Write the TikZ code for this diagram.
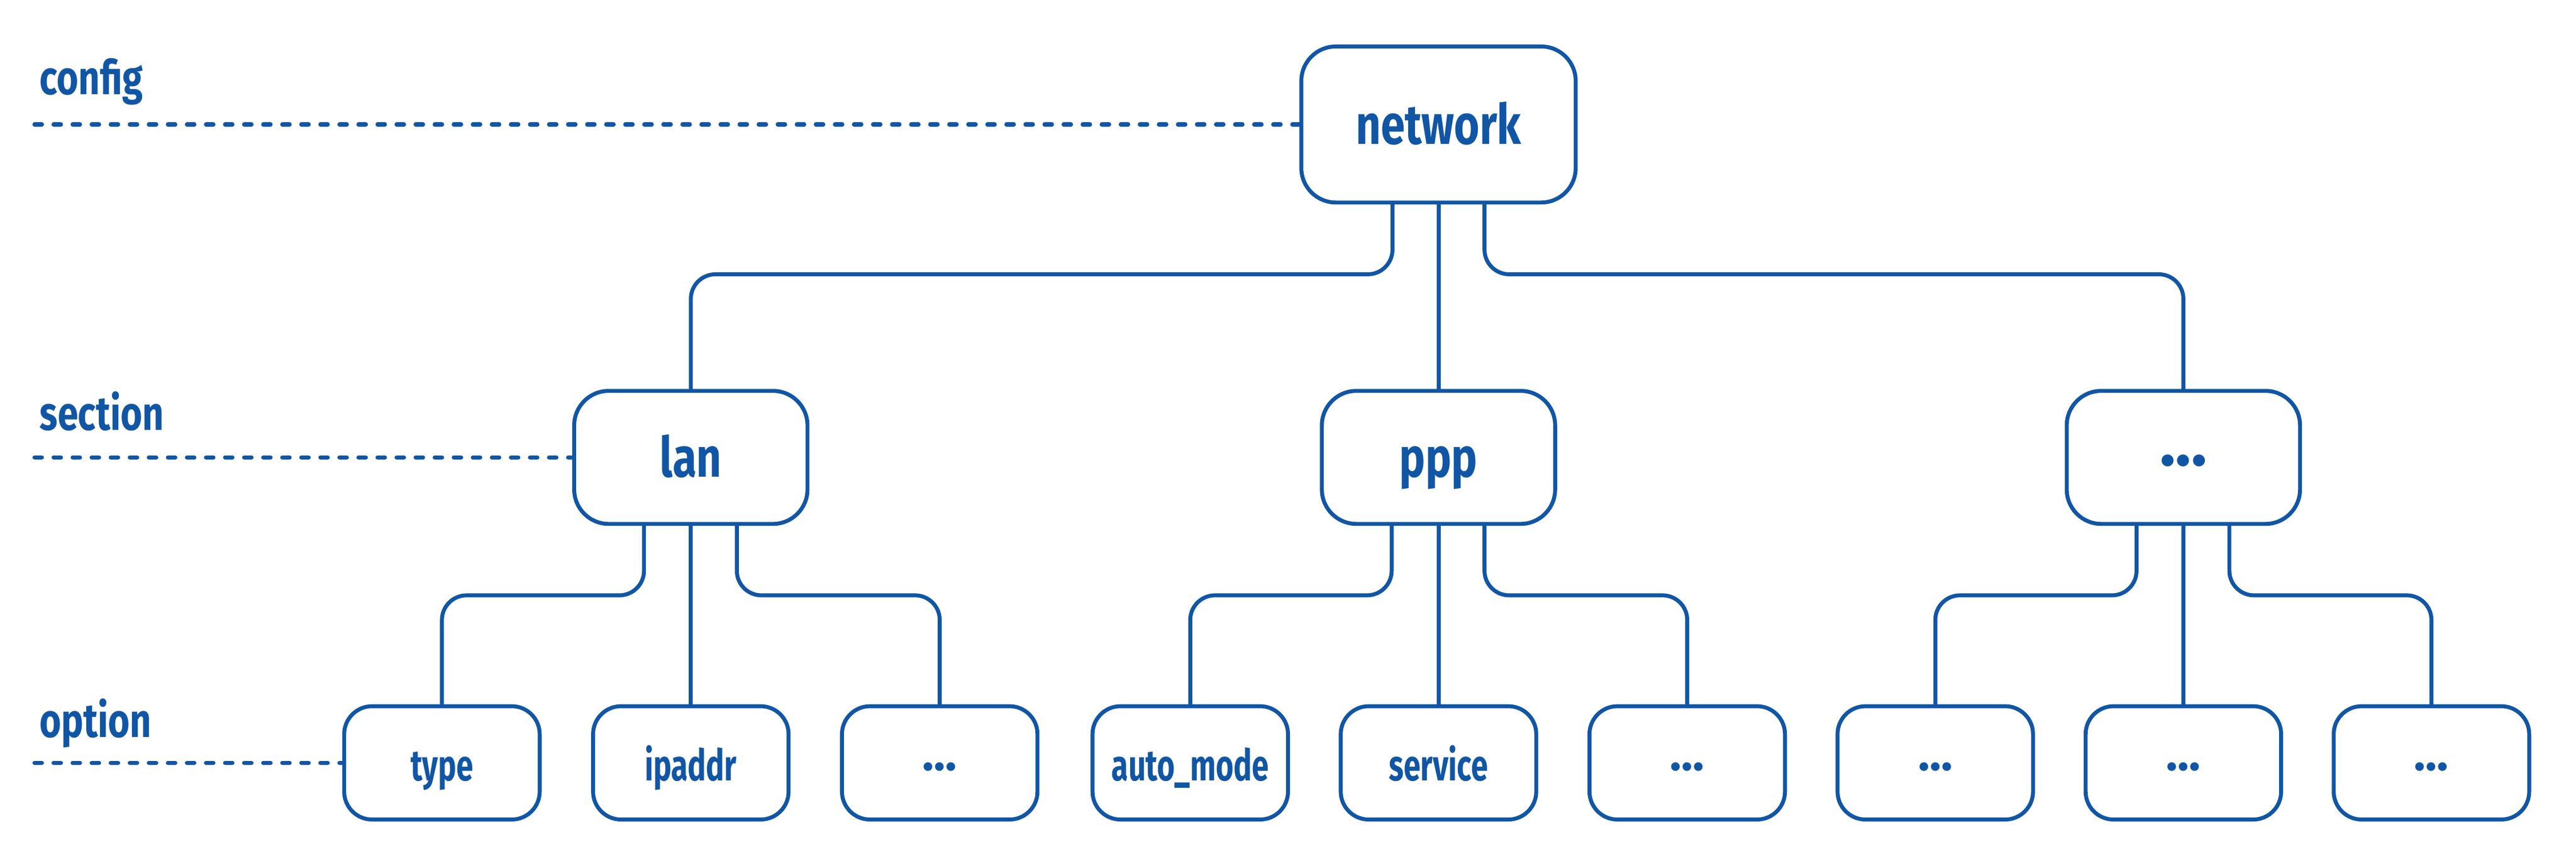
\documentclass[tikz,border=0pt]{standalone}
\usepackage{fontspec}
\setmainfont{Fira Sans}[FakeStretch=0.78]
\newfontfamily\optfont{Fira Sans}[FakeStretch=0.70]
\newfontfamily\dotfont{Fira Sans}
\usetikzlibrary{positioning}
\definecolor{cfgblue}{HTML}{1156A5}

\begin{document}
\begin{tikzpicture}[x=1pt,y=-1pt,
  box/.style={draw=cfgblue,line width=2.4pt,rounded corners=21pt,outer sep=0pt,
    text=cfgblue,font=\fontsize{34}{36}\selectfont\bfseries,text height=24pt,text depth=0pt,
    minimum width=142pt,minimum height=81pt},
  optbox/.style={box,rounded corners=17pt,font=\optfont\fontsize{26.5}{30}\selectfont\bfseries,
    text height=22pt,minimum width=119pt,minimum height=69pt},
  secdots/.style={box,font=\dotfont\fontsize{40}{40}\selectfont\bfseries,text height=9.6pt},
  optdots/.style={optbox,font=\dotfont\fontsize{29}{30}\selectfont\bfseries,text height=9pt},
  link/.style={draw=cfgblue,line width=2.4pt,rounded corners=15pt},
  leader/.style={draw=cfgblue,line width=2.5pt,line cap=round,dash pattern=on 4.5pt off 7.1pt},
  level/.style={anchor=base west,inner sep=0pt,text=cfgblue,font=\fontsize{29}{32}\selectfont\bfseries}]

\useasboundingbox (0,0) rectangle (1568,527.3);

\node[box,minimum width=167pt,minimum height=95pt] (net) at (875.6,75.8) {network};

\node[box] (lan) at (420.5,278.5) {lan};
\node[box] (ppp) at (875.6,278.5) {ppp};
\node[secdots] (sec3) at (1329,278.5) {...};

\node[optbox] (type) at (269,464.5) {type};
\node[optbox] (ipaddr) at (420.5,464.5) {ipaddr};
\node[optdots] (lanmore) at (572,464.5) {...};
\node[optbox] (automode) at (724.5,464.5) {auto\_mode};
\node[optbox] (service) at (875.6,464.5) {service};
\node[optdots] (pppmore) at (1027,464.5) {...};
\node[optdots] (opt7) at (1178,464.5) {...};
\node[optdots] (opt8) at (1329,464.5) {...};
\node[optdots] (opt9) at (1480,464.5) {...};

\node[level] (lconfig) at (24,57.5) {config};
\node[level] (lsection) at (24,262) {section};
\node[level] (loption) at (24,449) {option};

\coordinate (cfgstart) at (21,75.8);
\coordinate (secstart) at (21,278.5);
\coordinate (optstart) at (21,464.5);
\draw[leader] (cfgstart) -- (net.west);
\draw[leader] (secstart) -- (lan.west);
\draw[leader] (optstart) -- (type.west);

\draw[link] ([xshift=-28pt]net.south) |- ([yshift=71pt]lan.north) -- (lan.north);
\draw[link] (net.south) -- (ppp.north);
\draw[link] ([xshift=28pt]net.south) |- ([yshift=71pt]sec3.north) -- (sec3.north);

\draw[link] ([xshift=-28.5pt]lan.south) |- ([yshift=67.5pt]type.north) -- (type.north);
\draw[link] (lan.south) -- (ipaddr.north);
\draw[link] ([xshift=28pt]lan.south) |- ([yshift=67.5pt]lanmore.north) -- (lanmore.north);

\draw[link] ([xshift=-28.5pt]ppp.south) |- ([yshift=67.5pt]automode.north) -- (automode.north);
\draw[link] (ppp.south) -- (service.north);
\draw[link] ([xshift=28pt]ppp.south) |- ([yshift=67.5pt]pppmore.north) -- (pppmore.north);

\draw[link] ([xshift=-28.5pt]sec3.south) |- ([yshift=67.5pt]opt7.north) -- (opt7.north);
\draw[link] (sec3.south) -- (opt8.north);
\draw[link] ([xshift=28pt]sec3.south) |- ([yshift=67.5pt]opt9.north) -- (opt9.north);

\end{tikzpicture}
\end{document}
